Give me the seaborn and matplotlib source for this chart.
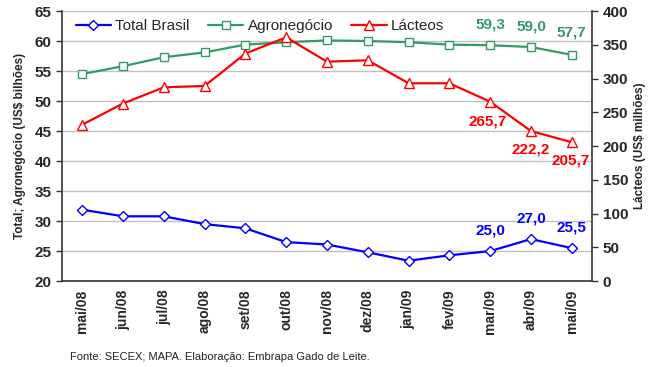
import matplotlib
matplotlib.use("Agg")
import matplotlib.pyplot as plt
import seaborn as sns
import pandas as pd
from matplotlib.ticker import FixedLocator

meses = ['mai/08', 'jun/08', 'jul/08', 'ago/08', 'set/08', 'out/08', 'nov/08',
         'dez/08', 'jan/09', 'fev/09', 'mar/09', 'abr/09', 'mai/09']
total_brasil = [31.9, 30.8, 30.8, 29.5, 28.8, 26.5, 26.1, 24.8, 23.4, 24.3, 25.0, 27.0, 25.5]
agronegocio = [54.5, 55.8, 57.3, 58.1, 59.4, 59.8, 60.1, 60.0, 59.8, 59.4, 59.3, 59.0, 57.7]
lacteos = [231.6, 263.0, 287.0, 289.0, 337.0, 361.0, 325.0, 327.0, 293.0, 293.0, 265.7, 222.2, 205.7]

sns.set_style("white")
plt.rcParams['font.family'] = ['Liberation Sans', 'DejaVu Sans']

azul = '#0000FF'
verde = '#339966'
vermelho = '#FF0000'

df = pd.DataFrame({'mes': meses, 'total': total_brasil, 'agro': agronegocio, 'lact': lacteos})

fig = plt.figure(figsize=(6.5, 3.67), dpi=100)
ax = fig.add_axes([0.095, 0.234, 0.816, 0.736])
ax2 = ax.twinx()

sns.lineplot(data=df, x='mes', y='total', ax=ax, color=azul, marker='D', markersize=5,
             markerfacecolor='white', markeredgecolor=azul, markeredgewidth=1, lw=1.6,
             label='Total Brasil', legend=False, sort=False)
sns.lineplot(data=df, x='mes', y='agro', ax=ax, color=verde, marker='s', markersize=5.5,
             markerfacecolor='white', markeredgecolor=verde, markeredgewidth=1, lw=1.6,
             label='Agronegócio', legend=False, sort=False)
sns.lineplot(data=df, x='mes', y='lact', ax=ax2, color=vermelho, marker='^', markersize=7,
             markerfacecolor='white', markeredgecolor=vermelho, markeredgewidth=1, lw=1.6,
             label='Lácteos', legend=False, sort=False)

ax.set_ylim(20, 65)
ax.set_yticks(range(20, 66, 5))
ax2.set_ylim(0, 400)
ax2.set_yticks(range(0, 401, 50))
ax.set_xlim(-0.5, len(meses) - 0.5)
ax.yaxis.grid(True, color='#c0c0c0', lw=1)
ax.set_axisbelow(True)

ax.set_xticks(range(len(meses)))
ax.set_xticklabels(meses, rotation=90, fontsize=10, fontweight='bold')
ax.xaxis.set_minor_locator(FixedLocator([i - 0.5 for i in range(len(meses) + 1)]))
ax.tick_params(axis='x', which='major', length=0, pad=6)
ax.tick_params(axis='x', which='minor', length=5, width=1, direction='out', color='#333333')
ax.tick_params(axis='y', length=4, width=1, direction='out', labelsize=11, color='#333333')
ax2.tick_params(axis='y', length=4, width=1, direction='out', labelsize=11, color='#333333')
for lab in ax.get_yticklabels() + ax2.get_yticklabels():
    lab.set_fontweight('bold')

for a in (ax, ax2):
    a.spines['top'].set_visible(False)
    for s in ('left', 'bottom', 'right'):
        a.spines[s].set_color('#333333')
        a.spines[s].set_linewidth(1.2)
ax.spines['right'].set_visible(False)
ax2.spines['left'].set_visible(False)
ax2.spines['bottom'].set_visible(False)

ax.set_xlabel('')
ax.set_ylabel('Total; Agronegócio (US$ bilhões)', fontsize=8.5, fontweight='bold', labelpad=6)
ax2.set_ylabel('Lácteos (US$ milhões)', fontsize=8.5, fontweight='bold', labelpad=4)

# rotulos dos ultimos meses
for i in (10, 11, 12):
    ax.annotate(f"{total_brasil[i]:.1f}".replace('.', ','), (i, total_brasil[i]),
                xytext=(0, 10), textcoords='offset points', ha='center', va='bottom',
                color=azul, fontsize=11, fontweight='bold')
offs_agro = {10: 10, 11: 10, 12: 11}
for i in (10, 11, 12):
    ax.annotate(f"{agronegocio[i]:.1f}".replace('.', ','), (i, agronegocio[i]),
                xytext=(0, offs_agro[i]), textcoords='offset points', ha='center', va='bottom',
                color=verde, fontsize=11, fontweight='bold')
offs_lact = {10: (-2, -9), 11: (0, -8), 12: (-1, -8)}
for i in (10, 11, 12):
    ax2.annotate(f"{lacteos[i]:.1f}".replace('.', ','), (i, lacteos[i]), xytext=offs_lact[i],
                 textcoords='offset points', ha='center', va='top',
                 color=vermelho, fontsize=11, fontweight='bold')

h1, lb1 = ax.get_legend_handles_labels()
h2, lb2 = ax2.get_legend_handles_labels()
ax2.legend(h1 + h2, lb1 + lb2, loc='upper left', bbox_to_anchor=(0.0, 1.02), ncol=3,
           frameon=False, fontsize=11, handlelength=2.3, columnspacing=1.2, handletextpad=0.3)

fig.text(0.108, 0.02, 'Fonte: SECEX; MAPA. Elaboração: Embrapa Gado de Leite.', fontsize=8, color='#222222')

fig.savefig('out.png', dpi=100)
